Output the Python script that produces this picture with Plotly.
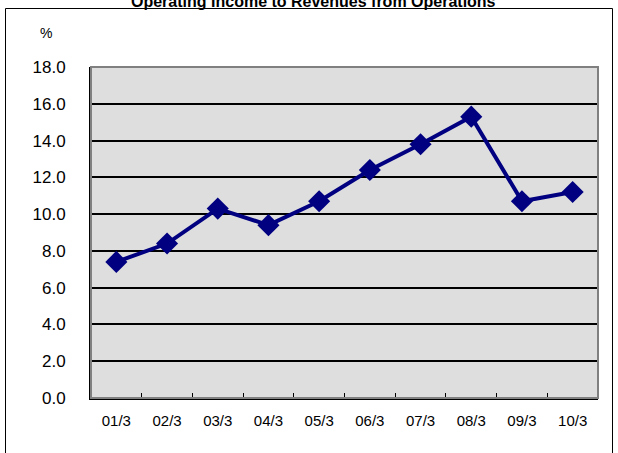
import plotly.graph_objects as go

# Data
periods = ['01/3', '02/3', '03/3', '04/3', '05/3', '06/3', '07/3', '08/3', '09/3', '10/3']
ratio_pct = [7.4, 8.4, 10.3, 9.4, 10.7, 12.4, 13.8, 15.3, 10.7, 11.2]
y_ticks = [0, 2, 4, 6, 8, 10, 12, 14, 16, 18]

NAVY = '#000080'
FONT = 'Liberation Sans, Arial, sans-serif'

# plot area in pixels (for placing paper-space decorations)
W, H = 618, 453
L, R, T, B = 91, 20, 67, 55
PW, PH = W - L - R, H - T - B


def px_x(px):
    return (px - L) / PW


def px_y(py):
    return (H - B - py) / PH


fig = go.Figure()

fig.add_trace(go.Scatter(
    x=periods, y=ratio_pct, mode='lines+markers',
    line=dict(color=NAVY, width=4),
    marker=dict(symbol='diamond', size=17, color=NAVY, line=dict(width=0)),
    showlegend=False,
))

fig.update_layout(
    width=W, height=H,
    margin=dict(l=L, r=R, t=T, b=B),
    paper_bgcolor='white',
    plot_bgcolor='#dedede',
    font=dict(family=FONT, size=13, color='black'),
    shapes=[
        # outer chart frame
        dict(type='rect', xref='paper', yref='paper',
             x0=px_x(5.5), x1=px_x(612.5), y0=px_y(470), y1=px_y(8.5),
             line=dict(color='black', width=1), layer='below'),
        # plot area border (grey top/right)
        dict(type='rect', xref='paper', yref='paper',
             x0=0, x1=1, y0=0, y1=1,
             line=dict(color='#808080', width=2), layer='above'),
    ],
    annotations=[
        dict(text='<b>Operating Income to Revenues from Operations</b>',
             xref='paper', yref='paper', x=px_x(313), y=px_y(12),
             xanchor='center', yanchor='bottom', showarrow=False,
             font=dict(size=16, family=FONT)),
        dict(text='%', xref='paper', yref='paper', x=px_x(46), y=px_y(33),
             xanchor='center', yanchor='middle', showarrow=False,
             font=dict(size=14, family=FONT)),
    ],
)

fig.update_xaxes(
    type='category', range=[-0.5, len(periods) - 0.5],
    showgrid=False, showline=True, linecolor='black', linewidth=2,
    ticks='inside', tickson='boundaries', ticklen=5, tickcolor='black',
    ticklabelstandoff=8, tickfont=dict(size=15),
    zeroline=False,
)
fig.update_yaxes(
    range=[0, 18], tickvals=y_ticks,
    ticktext=[f'{v:.1f}' for v in y_ticks],
    showgrid=True, gridcolor='black', gridwidth=2,
    showline=True, linecolor='black', linewidth=2,
    ticks='', ticklabelstandoff=20, tickfont=dict(size=17),
    zeroline=False,
)

# page margin off so the figure sits at the window's top-left corner
fig.write_html('out.html', config={'displayModeBar': False},
               post_script="document.body.style.margin='0';")
